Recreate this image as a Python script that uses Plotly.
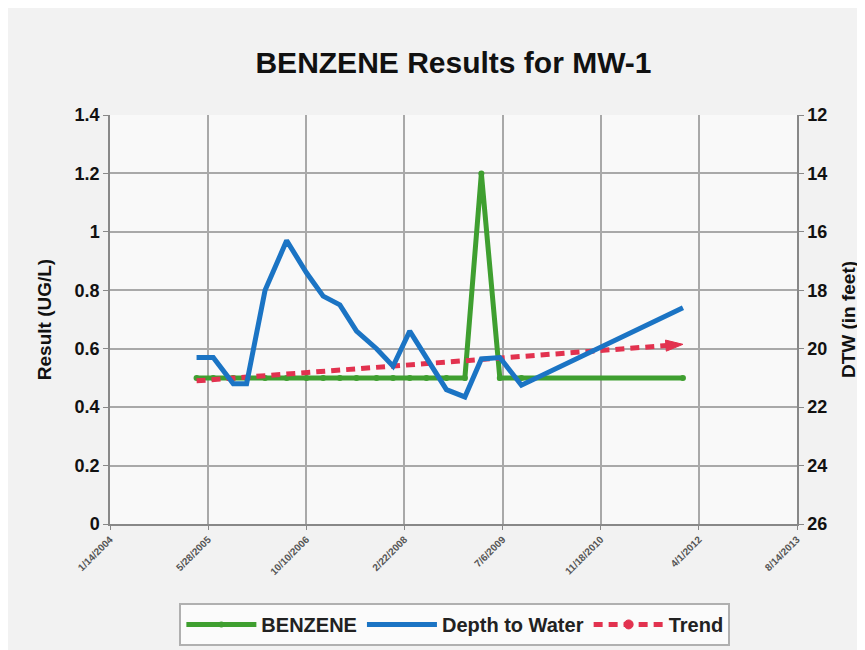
import plotly.graph_objects as go

# ---- data ----
sample_dates = ["2005-03-30", "2005-06-23", "2005-10-03", "2005-12-10", "2006-03-14",
                "2006-07-02", "2006-10-11", "2007-01-04", "2007-03-30", "2007-06-23",
                "2007-10-03", "2007-12-26", "2008-03-20", "2008-06-13", "2008-09-23",
                "2008-12-26", "2009-03-20", "2009-06-22", "2009-10-10", "2012-01-11"]
benzene = [0.5, 0.5, 0.5, 0.5, 0.5,
           0.5, 0.5, 0.5, 0.5, 0.5,
           0.5, 0.5, 0.5, 0.5, 0.5,
           0.5, 1.2, 0.5, 0.5, 0.5]
depth_to_water = [20.3, 20.3, 21.2, 21.2, 18.0,
                  16.3, 17.4, 18.2, 18.5, 19.4,
                  20.0, 20.6, 19.4, 20.3, 21.4,
                  21.65, 20.35, 20.3, 21.25, 18.6]
trend_dates = ["2005-03-30", "2012-01-11"]
trend_values = [0.49, 0.615]

x_tick_dates = ["2004-01-14", "2005-05-28", "2006-10-10", "2008-02-22",
                "2009-07-06", "2010-11-18", "2012-04-01", "2013-08-14"]
x_tick_labels = ["1/14/2004", "5/28/2005", "10/10/2006", "2/22/2008",
                 "7/6/2009", "11/18/2010", "4/1/2012", "8/14/2013"]
left_ticks = [0, 0.2, 0.4, 0.6, 0.8, 1, 1.2, 1.4]
left_tick_labels = ["0", "0.2", "0.4", "0.6", "0.8", "1", "1.2", "1.4"]
right_ticks = [12, 14, 16, 18, 20, 22, 24, 26]

GREEN = "#3f9f30"
BLUE = "#1b74c4"
RED = "#e2324f"
GRID = "#a9a9a9"
FONT = "Liberation Sans, Arial, sans-serif"

fig = go.Figure()

fig.add_trace(go.Scatter(
    x=sample_dates, y=benzene, name="BENZENE", mode="lines+markers",
    line=dict(color=GREEN, width=5), marker=dict(color=GREEN, size=6),
    yaxis="y"))

fig.add_trace(go.Scatter(
    x=sample_dates, y=depth_to_water, name="Depth to Water", mode="lines",
    line=dict(color=BLUE, width=5), yaxis="y2"))

fig.add_trace(go.Scatter(
    x=trend_dates, y=trend_values, name="Trend", mode="lines+markers",
    line=dict(color=RED, width=5, dash="9px,6px"),
    marker=dict(symbol=["circle", "arrow"], size=[0, 18], color=RED, opacity=1,
                angleref="previous", line=dict(width=1, color=RED)),
    yaxis="y"))

fig.update_layout(
    width=865, height=650,
    margin=dict(l=102, r=76, t=107, b=134, autoexpand=False),
    paper_bgcolor="#f2f2f2",
    plot_bgcolor="#f9f9f9",
    font=dict(family=FONT, color="#111"),
    title=dict(text="<b>BENZENE Results for MW-1</b>",
               font=dict(size=30, color="#111", family=FONT),
               x=0.5, xref="paper", xanchor="center",
               y=1 - 54 / 650, yref="container", yanchor="middle"),
    xaxis=dict(type="date", range=["2004-01-14", "2013-08-14"],
               tickmode="array", tickvals=x_tick_dates,
               ticktext=["<b>%s</b>" % t for t in x_tick_labels],
               tickangle=-45, tickfont=dict(size=10, color="#555", family=FONT),
               showgrid=True, gridcolor=GRID, gridwidth=1.5,
               showline=True, linecolor="#888", linewidth=1.5,
               ticks="outside", ticklen=4, tickcolor="#888", zeroline=False,
               automargin=False),
    yaxis=dict(range=[0, 1.4], tickmode="array", tickvals=left_ticks,
               ticktext=["<b>%s</b>" % t for t in left_tick_labels],
               tickfont=dict(size=18, color="#111"),
               title=dict(text="<b>Result (UG/L)</b>", font=dict(size=19, color="#111"),
                          standoff=18),
               showgrid=True, gridcolor=GRID, gridwidth=1.5,
               showline=True, linecolor="#888", linewidth=1.5,
               ticks="outside", ticklen=5, tickcolor="#888", zeroline=False,
               automargin=False),
    yaxis2=dict(range=[26, 12], overlaying="y", side="right",
                tickmode="array", tickvals=right_ticks,
                ticktext=["<b>%d</b>" % t for t in right_ticks],
                tickfont=dict(size=18, color="#111"),
                title=dict(text="<b>DTW (in feet)</b>", font=dict(size=19, color="#111"),
                           standoff=15),
                showgrid=False, showline=True, linecolor="#888", linewidth=1.5,
                ticks="outside", ticklen=5, tickcolor="#888", zeroline=False,
                automargin=False),
    legend=dict(orientation="h", x=0.502, xanchor="center", y=-0.193, yanchor="top",
                bgcolor="#fbfbfb", bordercolor="#b0b0b0", borderwidth=2,
                font=dict(size=20, color="#222", weight="bold"), itemwidth=70,
                traceorder="normal"),
    showlegend=True,
)

fig.write_html("out.html")
